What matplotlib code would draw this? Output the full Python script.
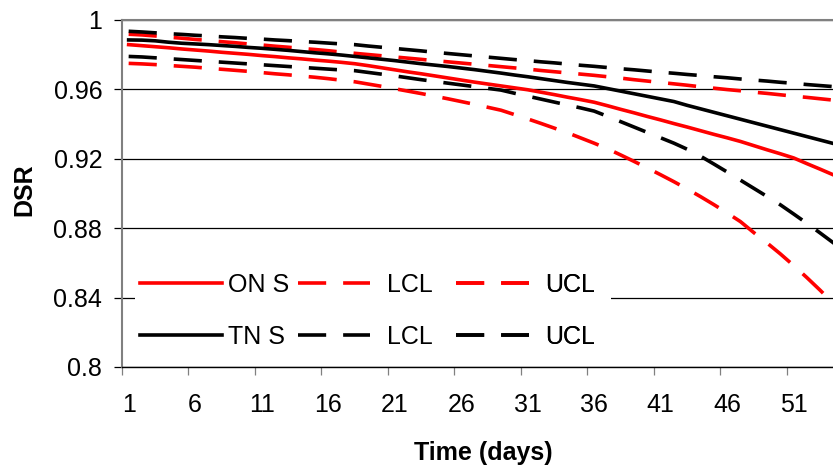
import numpy as np
import matplotlib.pyplot as plt
from matplotlib.patches import Rectangle
from matplotlib.lines import Line2D

plt.rcParams['font.family'] = ['Liberation Sans', 'DejaVu Sans']

days = np.arange(1, 56)

on_s = [0.9858, 0.9852, 0.9846, 0.9840, 0.9833, 0.9827, 0.9821, 0.9814, 0.9808, 0.9802,
        0.9795, 0.9789, 0.9782, 0.9776, 0.9769, 0.9763, 0.9756, 0.9748, 0.9737, 0.9725,
        0.9713, 0.9701, 0.9690, 0.9678, 0.9666, 0.9654, 0.9642, 0.9631, 0.9620, 0.9609,
        0.9598, 0.9584, 0.9570, 0.9555, 0.9541, 0.9526, 0.9506, 0.9485, 0.9465, 0.9444,
        0.9424, 0.9403, 0.9383, 0.9362, 0.9341, 0.9321, 0.9300, 0.9276, 0.9252, 0.9229,
        0.9205, 0.9172, 0.9140, 0.9107, 0.9072]
on_lcl = [0.9750, 0.9747, 0.9743, 0.9738, 0.9733, 0.9728, 0.9722, 0.9716, 0.9710, 0.9704,
          0.9697, 0.9690, 0.9684, 0.9677, 0.9670, 0.9662, 0.9653, 0.9644, 0.9631, 0.9618,
          0.9604, 0.9590, 0.9576, 0.9561, 0.9546, 0.9530, 0.9514, 0.9497, 0.9480, 0.9455,
          0.9430, 0.9404, 0.9377, 0.9350, 0.9320, 0.9290, 0.9258, 0.9222, 0.9185, 0.9147,
          0.9108, 0.9068, 0.9026, 0.8982, 0.8936, 0.8888, 0.8838, 0.8775, 0.8715, 0.8652,
          0.8585, 0.8515, 0.8442, 0.8365, 0.8285]
on_ucl = [0.9918, 0.9914, 0.9908, 0.9901, 0.9895, 0.9888, 0.9882, 0.9875, 0.9869, 0.9862,
          0.9856, 0.9849, 0.9843, 0.9836, 0.9830, 0.9823, 0.9815, 0.9808, 0.9801, 0.9794,
          0.9787, 0.9780, 0.9773, 0.9766, 0.9759, 0.9752, 0.9745, 0.9738, 0.9731, 0.9724,
          0.9717, 0.9709, 0.9702, 0.9695, 0.9688, 0.9681, 0.9673, 0.9665, 0.9656, 0.9648,
          0.9640, 0.9632, 0.9624, 0.9615, 0.9607, 0.9599, 0.9592, 0.9584, 0.9577, 0.9569,
          0.9561, 0.9554, 0.9546, 0.9538, 0.9530]

tn_s = [0.9885, 0.9884, 0.9880, 0.9872, 0.9866, 0.9862, 0.9858, 0.9853, 0.9848, 0.9842,
        0.9837, 0.9831, 0.9825, 0.9818, 0.9811, 0.9805, 0.9798, 0.9790, 0.9782, 0.9774,
        0.9766, 0.9757, 0.9748, 0.9740, 0.9732, 0.9723, 0.9714, 0.9704, 0.9694, 0.9683,
        0.9673, 0.9662, 0.9651, 0.9640, 0.9630, 0.9620, 0.9605, 0.9590, 0.9575, 0.9560,
        0.9545, 0.9530, 0.9508, 0.9488, 0.9468, 0.9448, 0.9428, 0.9408, 0.9388, 0.9368,
        0.9348, 0.9328, 0.9308, 0.9288, 0.9268]
tn_lcl = [0.9790, 0.9787, 0.9782, 0.9777, 0.9772, 0.9767, 0.9762, 0.9757, 0.9752, 0.9747,
          0.9742, 0.9737, 0.9732, 0.9727, 0.9722, 0.9717, 0.9712, 0.9708, 0.9698, 0.9688,
          0.9678, 0.9667, 0.9656, 0.9646, 0.9636, 0.9626, 0.9616, 0.9606, 0.9596, 0.9578,
          0.9561, 0.9544, 0.9527, 0.9510, 0.9493, 0.9475, 0.9445, 0.9414, 0.9383, 0.9352,
          0.9321, 0.9290, 0.9255, 0.9215, 0.9170, 0.9124, 0.9077, 0.9030, 0.8983, 0.8935,
          0.8882, 0.8828, 0.8772, 0.8715, 0.8655]
tn_ucl = [0.9935, 0.9931, 0.9926, 0.9921, 0.9917, 0.9912, 0.9908, 0.9903, 0.9899, 0.9894,
          0.9890, 0.9885, 0.9881, 0.9876, 0.9872, 0.9867, 0.9862, 0.9858, 0.9850, 0.9843,
          0.9836, 0.9829, 0.9822, 0.9814, 0.9807, 0.9800, 0.9793, 0.9786, 0.9779, 0.9772,
          0.9766, 0.9759, 0.9753, 0.9746, 0.9739, 0.9733, 0.9726, 0.9719, 0.9713, 0.9706,
          0.9699, 0.9693, 0.9686, 0.9680, 0.9673, 0.9667, 0.9660, 0.9654, 0.9648, 0.9641,
          0.9635, 0.9628, 0.9622, 0.9616, 0.9609]

y_ticks = [0.8, 0.84, 0.88, 0.92, 0.96, 1.0]
x_ticks = list(range(1, 52, 5))

fs = 18
lw = 2.6
dash = (7.8, 4.7)

fig = plt.figure(figsize=(8.33, 4.69), dpi=100)
ax = fig.add_axes([122 / 833, 102 / 469, 711 / 833, 347 / 469])

ax.plot(days, on_lcl, color='red', lw=lw, dashes=dash, zorder=3)
ax.plot(days, on_ucl, color='red', lw=lw, dashes=dash, zorder=3)
ax.plot(days, on_s, color='red', lw=lw, zorder=3)
ax.plot(days, tn_lcl, color='black', lw=lw, dashes=dash, zorder=4)
ax.plot(days, tn_ucl, color='black', lw=lw, dashes=dash, zorder=4)
ax.plot(days, tn_s, color='black', lw=lw, zorder=4)

ax.set_xlim(0.5, 53.96)
ax.set_ylim(0.8, 1.0)

ax.set_yticks(y_ticks)
ax.set_yticklabels([f'{v:g}' for v in y_ticks])
ax.set_xticks(x_ticks)
ax.set_xticks(np.arange(0.5, 54, 5), minor=True)
ax.tick_params(axis='x', which='major', length=0, pad=19, labelsize=fs)
ax.tick_params(axis='x', which='minor', length=8 * 0.72, width=0.9, color='#808080')
ax.tick_params(axis='y', length=8 * 0.72, width=0.9, pad=8.5, labelsize=fs, color='black')

ax.grid(axis='y', color='black', lw=0.9)
ax.set_axisbelow(True)

for s in ['left', 'top']:
    ax.spines[s].set_color('#808080')
    ax.spines[s].set_linewidth(1.5)
ax.spines['right'].set_visible(False)
ax.spines['bottom'].set_color('black')
ax.spines['bottom'].set_linewidth(1.0)

ax.set_xlabel('Time (days)', fontsize=fs, fontweight='bold')
ax.xaxis.set_label_coords(0.508, -0.212)
ax.set_ylabel('DSR', fontsize=fs, fontweight='bold', va='center')
ax.yaxis.set_label_coords(-0.137, 0.51)

# white box behind the legend, hides the 0.84 grid line
ax.add_patch(Rectangle((0.018, 0.06), 0.67, 0.28, transform=ax.transAxes,
                       facecolor='white', edgecolor='none', zorder=1.5))

cols = [
    ([Line2D([], [], color='red', lw=lw), Line2D([], [], color='black', lw=lw)],
     ['ON S', 'TN S'], 0.0253, 3.3, 0.22),
    ([Line2D([], [], color='red', lw=lw, dashes=dash), Line2D([], [], color='black', lw=lw, dashes=dash)],
     ['LCL', 'LCL'], 0.2475, 2.9, 0.65),
    ([Line2D([], [], color='red', lw=lw, dashes=dash), Line2D([], [], color='black', lw=lw, dashes=dash)],
     ['UCL', 'UCL'], 0.4698, 2.9, 0.65),
]
for handles, labels, xpos, hl, tp in cols:
    leg = ax.legend(handles, labels, loc='upper left', bbox_to_anchor=(xpos, 0.272),
                    frameon=False, fontsize=fs, handlelength=hl, handletextpad=tp,
                    borderpad=0, borderaxespad=0, labelspacing=1.12)
    leg.set_zorder(5)
    ax.add_artist(leg)

fig.savefig('out.png', dpi=100)
